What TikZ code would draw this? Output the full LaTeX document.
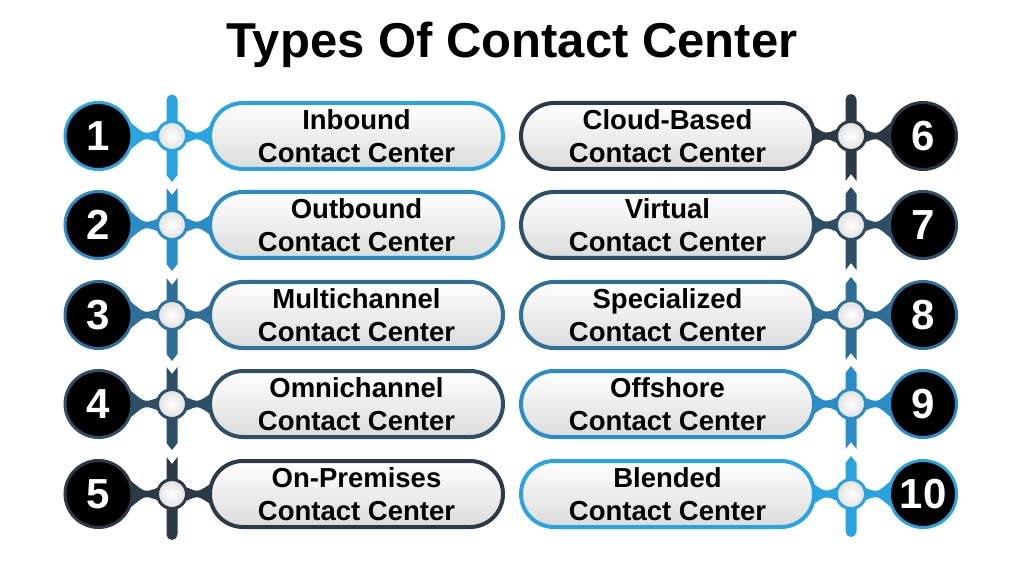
\documentclass[tikz,border=0pt]{standalone}
\usepackage{fontspec}
\setmainfont{Liberation Sans}
\usetikzlibrary{shapes.misc,backgrounds,calc}
\definecolor{rowA}{HTML}{2AA4E1}
\definecolor{rowB}{HTML}{2B8DC7}
\definecolor{rowC}{HTML}{2E6E97}
\definecolor{rowD}{HTML}{2F4F66}
\definecolor{rowE}{HTML}{2D3944}
\tikzset{
  numdot/.style={circle, fill=black, line width=3pt, minimum size=67pt, inner sep=0pt,
    text=white, font=\fontsize{42}{42}\selectfont\bfseries},
  joint/.style={circle, line width=3pt, minimum size=29pt, inner sep=0pt,
    inner color=white, outer color=black!12},
  pill/.style={rounded rectangle, line width=4pt, minimum width=293pt, minimum height=66pt,
    inner sep=0pt, align=center, top color=white, bottom color=black!14,
    font=\fontsize{27.5}{33}\selectfont\bfseries},
  heading/.style={font=\fontsize{49}{49}\selectfont\bfseries}
}
\begin{document}
\begin{tikzpicture}[x=1pt,y=1pt]
    \useasboundingbox (0,0) rectangle (1024,576);
    \node[heading] (title) at (512,531) {Types Of Contact Center};
    % left bar
    \foreach \yy/\col in {351/rowB, 261/rowC, 172/rowD}
        \fill[\col] (166.5,\yy-39) -- (166.5,\yy+37) -- (172,\yy+30) -- (177.5,\yy+37)
            -- (177.5,\yy-39) -- (172,\yy-46) -- cycle;
    \fill[rowA] (166.5,440-39) -- (166.5,440+36) arc[start angle=180, end angle=0, radius=5.5]
        -- (177.5,440-39) -- (172,440-46) -- cycle;
    \fill[rowE] (166.5,82+37) -- (172,82+30) -- (177.5,82+37) -- (177.5,82-40.5)
        arc[start angle=0, end angle=-180, radius=5.5] -- cycle;
    % right bar
    \foreach \yy/\col in {351/rowD, 261/rowC, 172/rowB}
        \fill[\col] (845.5,\yy-45) -- (845.5,\yy+31) -- (851,\yy+38) -- (856.5,\yy+31)
            -- (856.5,\yy-45) -- (851,\yy-38) -- cycle;
    \fill[rowE] (845.5,440-45) -- (845.5,440+36.5) arc[start angle=180, end angle=0, radius=5.5]
        -- (856.5,440-45) -- (851,440-38) -- cycle;
    \fill[rowA] (845.5,82-37.5) -- (845.5,82+31) -- (851,82+38) -- (856.5,82+31)
        -- (856.5,82-37.5) arc[start angle=0, end angle=-180, radius=5.5] -- cycle;
    % left column
    \foreach \i/\col/\yy/\ta in {1/rowA/440/Inbound, 2/rowB/351/Outbound,
        3/rowC/261/Multichannel, 4/rowD/172/Omnichannel, 5/rowE/82/On-Premises} {
        \node[numdot, draw=\col] (n\i) at (98.5,\yy) {\i};
        \node[joint, draw=\col] (d\i) at (172,\yy) {};
        \node[pill, draw=\col] (p\i) at (356.5,\yy) {\ta\\Contact Center};
        \begin{scope}[on background layer]
            \fill[\col] (n\i.22) .. controls ($(n\i.east)!.5!(d\i.west)+(0,1.5)$) .. (d\i.158)
                -- (d\i.202) .. controls ($(n\i.east)!.5!(d\i.west)-(0,1.5)$) .. (n\i.338) -- cycle;
            \fill[\col] (d\i.25) .. controls ($(d\i.east)!.5!(p\i.west)+(0,1.5)$) .. ($(p\i.west)+(5,12)$)
                -- ($(p\i.west)+(5,-12)$) .. controls ($(d\i.east)!.5!(p\i.west)-(0,1.5)$) .. (d\i.335) -- cycle;
        \end{scope}
    }
    % right column
    \foreach \i/\col/\yy/\ta in {6/rowE/440/Cloud-Based, 7/rowD/351/Virtual,
        8/rowC/261/Specialized, 9/rowB/172/Offshore, 10/rowA/82/Blended} {
        \node[numdot, draw=\col] (n\i) at (923,\yy) {\i};
        \node[joint, draw=\col] (d\i) at (851,\yy) {};
        \node[pill, draw=\col] (p\i) at (667.5,\yy) {\ta\\Contact Center};
        \begin{scope}[on background layer]
            \fill[\col] (n\i.158) .. controls ($(n\i.west)!.5!(d\i.east)+(0,1.5)$) .. (d\i.22)
                -- (d\i.338) .. controls ($(n\i.west)!.5!(d\i.east)-(0,1.5)$) .. (n\i.202) -- cycle;
            \fill[\col] (d\i.155) .. controls ($(d\i.west)!.5!(p\i.east)+(0,1.5)$) .. ($(p\i.east)+(-5,12)$)
                -- ($(p\i.east)+(-5,-12)$) .. controls ($(d\i.west)!.5!(p\i.east)-(0,1.5)$) .. (d\i.205) -- cycle;
        \end{scope}
    }
\end{tikzpicture}
\end{document}
